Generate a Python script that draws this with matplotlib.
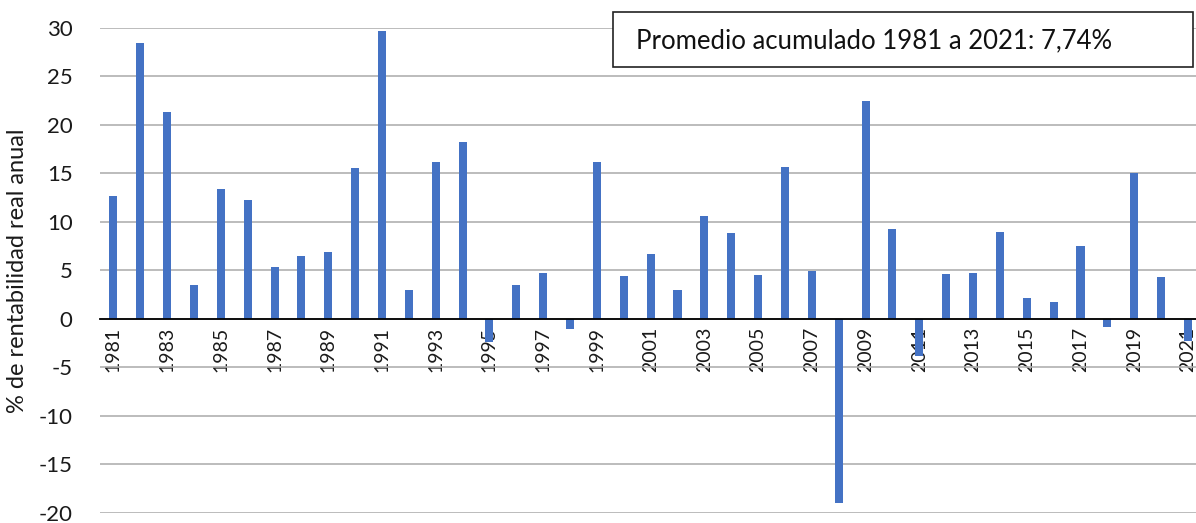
import numpy as np
import matplotlib.pyplot as plt
from matplotlib.patches import Rectangle

plt.rcParams['font.family'] = ['Lato', 'DejaVu Sans']

years = list(range(1981, 2022))
rentabilidad = [12.7, 28.5, 21.3, 3.5, 13.4, 12.2, 5.3, 6.5, 6.9, 15.6,
                29.7, 3.0, 16.2, 18.2, -2.4, 3.5, 4.7, -1.1, 16.2, 4.4,
                6.7, 3.0, 10.6, 8.8, 4.5, 15.7, 4.9, -19.0, 22.5, 9.3,
                -3.8, 4.6, 4.7, 8.9, 2.1, 1.7, 7.5, -0.9, 15.0, 4.3,
                -2.3]
yticks = [30, 25, 20, 15, 10, 5, 0, -5, -10, -15, -20]
nota = 'Promedio acumulado 1981 a 2021: 7,74%'

fig = plt.figure(figsize=(11.96, 5.23), dpi=100)
ax = fig.add_axes([0.084, 0.02, 0.916, 0.9265])

x = np.arange(len(years))
ax.bar(x, rentabilidad, width=0.3, color='#4472C4', zorder=3)

ax.set_ylim(-20, 30)
ax.set_xlim(-0.48, len(years) - 0.7)

# eje x sobre el cero (esto reinicia los ticks, por eso va primero)
ax.spines['bottom'].set_position(('data', 0))
ax.spines['bottom'].set_color('black')
ax.spines['bottom'].set_linewidth(1.3)
ax.spines['bottom'].set_zorder(4)
for s in ['top', 'right', 'left']:
    ax.spines[s].set_visible(False)

ax.set_yticks(yticks)
ax.set_yticklabels([str(v) for v in yticks], fontsize=16, color='#1a1a1a')
ax.yaxis.grid(True, color='#B0B0B0', linewidth=1.2, zorder=0)
ax.tick_params(axis='y', length=0, pad=20)

ax.set_xticks(x[::2])
ax.set_xticklabels([str(y) for y in years[::2]], fontsize=14, color='#1a1a1a')
ax.tick_params(axis='x', length=0, pad=6, labelrotation=90)

ax.set_ylabel('% de rentabilidad real anual', fontsize=17, color='#1a1a1a')
ax.yaxis.set_label_coords(-0.066, 0.5)

# caja con el promedio
fig.patches.append(Rectangle((613 / 1196, 1 - 67 / 523), 580 / 1196, 55 / 523,
                             transform=fig.transFigure, fill=True,
                             facecolor='white', edgecolor='#222222',
                             linewidth=1.2, zorder=5))
fig.text(636 / 1196, 1 - 41 / 523, nota, fontsize=18.5, va='center',
         ha='left', zorder=6, color='#111111')

fig.savefig('out.png', dpi=100)
